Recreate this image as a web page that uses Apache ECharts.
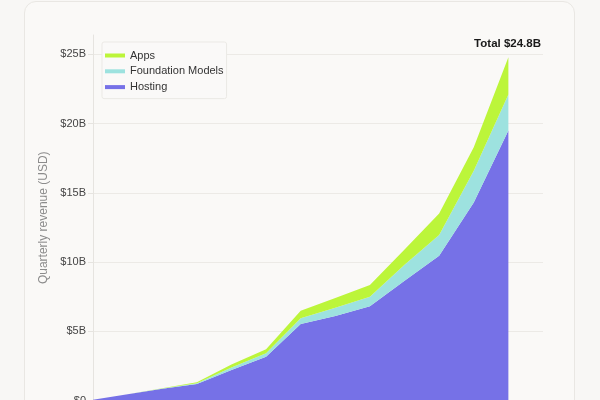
<!DOCTYPE html>
<html>
<head>
<meta charset="utf-8">
<script src="https://cdn.jsdelivr.net/npm/echarts@6/dist/echarts.min.js"></script>
<style>
  html, body { margin: 0; padding: 0; width: 600px; height: 400px; overflow: hidden; background: #f8f7f5; }
  #card { position: absolute; left: 24px; top: 1px; width: 551px; height: 470px; box-sizing: border-box;
          border: 1px solid #e9e7e3; border-radius: 12px; background: #faf9f7; }
  #chart { position: absolute; left: 0; top: 0; width: 600px; height: 460px; }
</style>
</head>
<body>
<div id="card"></div>
<div id="chart"></div>
<script>
const categories = ["Q1'22","Q2'22","Q3'22","Q4'22","Q1'23","Q2'23","Q3'23","Q4'23","Q1'24","Q2'24","Q3'24","Q4'24","Q1'25","Q2'25"];
const hosting = [0.05, 0.45, 0.85, 1.2, 2.2, 3.16, 5.53, 6.1, 6.8, 8.65, 10.45, 14.3, 19.5, null];
const foundationModels = [0, 0, 0.01, 0.05, 0.18, 0.25, 0.41, 0.6, 0.7, 1.15, 1.5, 2.3, 2.6, null];
const apps = [0, 0, 0.02, 0.06, 0.22, 0.3, 0.55, 0.7, 0.85, 1.1, 1.55, 1.7, 2.7, null];
const totalLabel = 'Total $24.8B';
const yTicks = [0, 5, 10, 15, 20, 25];

const chart = echarts.init(document.getElementById('chart'), null, { renderer: 'canvas' });
const font = 'Liberation Sans, Arial, sans-serif';
const mk = (name, data, color) => ({
  name, type: 'line', stack: 'rev', data, showSymbol: false, symbol: 'none',
  lineStyle: { width: 0 }, areaStyle: { color, opacity: 1 }, itemStyle: { color },
  emphasis: { disabled: true }
});
chart.setOption({
  animation: false,
  textStyle: { fontFamily: font },
  grid: { left: 93, right: 57, top: 35, bottom: 59.5 },
  legend: {
    orient: 'vertical', left: 102, top: 42,
    data: ['Apps', 'Foundation Models', 'Hosting'],
    icon: 'rect', itemWidth: 20, itemHeight: 4, itemGap: 4.8,
    padding: [8, 3, 6, 3],
    backgroundColor: '#faf9f8', borderColor: '#ebe9e5', borderWidth: 1, borderRadius: 2,
    textStyle: { fontSize: 11, color: '#333', fontFamily: font }
  },
  xAxis: {
    type: 'category', data: categories, boundaryGap: false,
    axisLine: { show: false }, axisTick: { show: false }, axisLabel: { color: '#555', fontSize: 11 }
  },
  yAxis: {
    type: 'value', min: 0, max: 26.4, interval: 5,
    name: 'Quarterly revenue (USD)', nameLocation: 'middle', nameGap: 39,
    nameTextStyle: { color: '#8c8c8c', fontSize: 12, fontFamily: font },
    axisLine: { show: true, lineStyle: { color: '#e6e4e0' } },
    axisTick: { show: true, length: 5, lineStyle: { color: '#e6e4e0' } },
    axisLabel: { color: '#444', fontSize: 11, margin: 7, showMaxLabel: false,
      formatter: v => yTicks.includes(v) ? (v === 0 ? '$0' : '$' + v + 'B') : '' },
    splitLine: { show: true, showMaxLine: false, lineStyle: { color: '#eceae6' } }
  },
  graphic: [{
    type: 'text', right: 59, top: 38,
    style: { text: totalLabel, font: 'bold 11.5px ' + font, fill: '#1a1a1a' }
  }],
  series: [
    mk('Hosting', hosting, '#7671e7'),
    mk('Foundation Models', foundationModels, '#9de2df'),
    mk('Apps', apps, '#bcf53a')
  ]
});
</script>
</body>
</html>
